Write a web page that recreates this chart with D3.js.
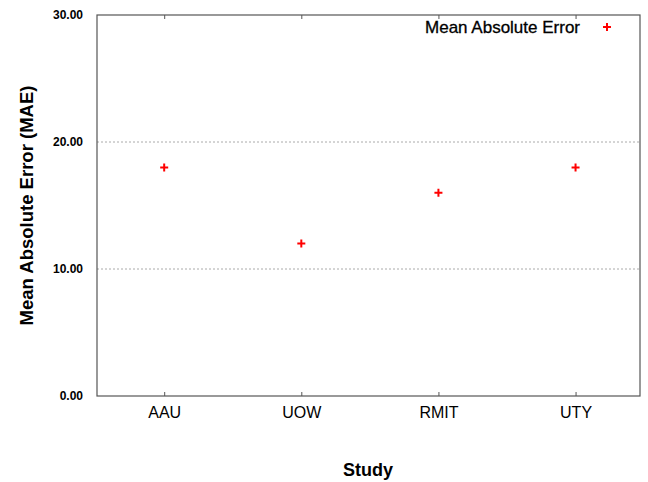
<!DOCTYPE html>
<html>
<head>
<meta charset="utf-8">
<script src="https://cdn.jsdelivr.net/npm/d3@7"></script>
<style>
  body { margin: 0; background: #fff; }
  svg { display: block; font-family: "Liberation Sans", Arial, sans-serif; }
</style>
</head>
<body>
<div id="chart"></div>
<script>
const studies = ["AAU", "UOW", "RMIT", "UTY"];
const maeValues = [18, 12, 16, 18];
const yTicks = [0, 10, 20, 30];
const seriesName = "Mean Absolute Error";

const width = 648, height = 482;
const margin = { top: 15, right: 8, bottom: 86, left: 97 };

const svg = d3.select("#chart").append("svg")
    .attr("width", width)
    .attr("height", height);

const x = d3.scaleLinear().domain([-0.49, 3.47]).range([margin.left, width - margin.right]);
const y = d3.scaleLinear().domain([0, 30]).range([height - margin.bottom, margin.top]);

// dotted grid
svg.append("g")
    .selectAll("line")
    .data([10, 20])
    .join("line")
    .attr("x1", margin.left).attr("x2", width - margin.right)
    .attr("y1", d => y(d)).attr("y2", d => y(d))
    .attr("stroke", "#aaa")
    .attr("stroke-dasharray", "2,2");

// frame
svg.append("rect")
    .attr("x", margin.left).attr("y", margin.top)
    .attr("width", width - margin.right - margin.left)
    .attr("height", height - margin.bottom - margin.top)
    .attr("fill", "none")
    .attr("stroke", "#555")
    .attr("stroke-width", 1.2);

// axes
const xAxis = d3.axisBottom(x).tickValues(d3.range(studies.length))
    .tickFormat(i => studies[i]).tickSizeInner(-4).tickSizeOuter(0).tickPadding(11);
const gx = svg.append("g").attr("transform", `translate(0,${y(0)})`).call(xAxis);
gx.select(".domain").remove();
gx.selectAll("line").attr("stroke", "#555");
gx.selectAll("text").attr("font-size", 16).attr("fill", "#000");

const xTop = d3.axisTop(x).tickValues(d3.range(studies.length))
    .tickFormat("").tickSizeInner(-4).tickSizeOuter(0);
const gxt = svg.append("g").attr("transform", `translate(0,${y(30)})`).call(xTop);
gxt.select(".domain").remove();
gxt.selectAll("line").attr("stroke", "#555");

const yAxis = d3.axisLeft(y).tickValues(yTicks).tickFormat(d3.format(".2f"))
    .tickSize(0).tickPadding(14);
const gy = svg.append("g").attr("transform", `translate(${margin.left},0)`).call(yAxis);
gy.select(".domain").remove();
gy.selectAll("text").attr("font-size", 12).attr("font-weight", "bold").attr("fill", "#000");

// axis titles
svg.append("text")
    .attr("x", 368).attr("y", 476)
    .attr("text-anchor", "middle")
    .attr("font-size", 18).attr("font-weight", "bold")
    .text("Study");

svg.append("text")
    .attr("transform", `translate(33,${(y(0) + y(30)) / 2}) rotate(-90)`)
    .attr("text-anchor", "middle")
    .attr("font-size", 18.5).attr("font-weight", "bold")
    .text("Mean Absolute Error (MAE)");

// points
svg.append("g")
    .selectAll("path")
    .data(maeValues)
    .join("path")
    .attr("transform", (d, i) => `translate(${x(i)},${y(d)})`)
    .attr("d", "M-4,0L4,0M0,-4L0,4")
    .attr("stroke", "#f00")
    .attr("stroke-width", 2)
    .attr("fill", "none");

// legend
const lg = svg.append("g");
lg.append("text")
    .attr("x", 580).attr("y", 33)
    .attr("text-anchor", "end")
    .attr("font-size", 17)
    .attr("fill", "#000")
    .attr("stroke", "#000")
    .attr("stroke-width", 0.3)
    .text(seriesName);
lg.append("path")
    .attr("transform", "translate(607,27)")
    .attr("d", "M-4,0L4,0M0,-4L0,4")
    .attr("stroke", "#f00")
    .attr("stroke-width", 2);
</script>
</body>
</html>
